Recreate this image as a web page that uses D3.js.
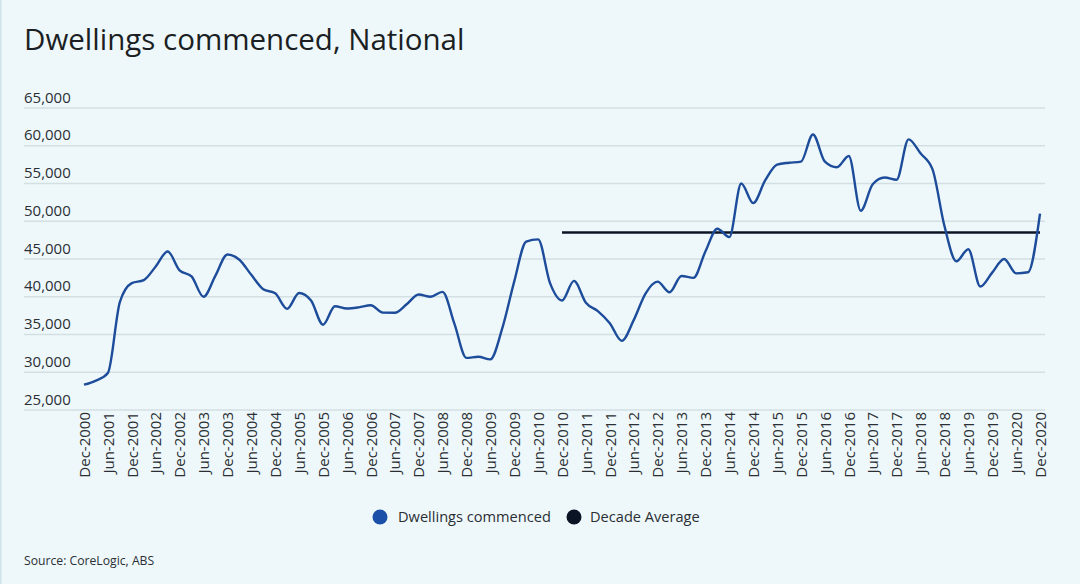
<!DOCTYPE html>
<html>
<head>
<meta charset="utf-8">
<script src="https://cdn.jsdelivr.net/npm/d3@7"></script>
<style>
  html, body { margin: 0; padding: 0; background: #eef8fb; }
  svg { display: block; }
  text { font-family: "Open Sans", "Noto Sans", sans-serif; }
</style>
</head>
<body>
<svg id="chart" width="1080" height="584"></svg>
<script>
// ---- Data ----
const months = ["Dec", "Mar", "Jun", "Sep"];
const startYear = 2000;
// Quarterly categories Dec-2000 ... Dec-2020
const categories = [];
for (let i = 0; i <= 80; i++) {
  const m = months[i % 4];
  const y = startYear + Math.ceil(i / 4);
  categories.push(m + "-" + y);
}
// Dwellings commenced (quarterly)
const dwellings = [
  28350, 28900, 29900, 39300, 41800, 42200, 44000, 46000, 43500, 42700,
  40000, 42800, 45600, 44900, 42900, 41000, 40450, 38400, 40500, 39500,
  36300, 38750, 38450, 38600, 38870, 37900, 37880, 39000, 40300, 40000,
  40650, 36400, 31900, 32050, 31700, 35800, 42000, 47300, 47600, 41800,
  39500, 42100, 39200, 38100, 36500, 34150, 36900, 40450, 42000, 40600,
  42750, 42500, 46000, 49000, 47900, 55000, 52400, 55400, 57500, 57750,
  57900, 61500, 57900, 57150, 58650, 51400, 54900, 55800, 55500, 60850,
  59000, 56900, 49400, 44700, 46300, 41350, 43200, 45000, 43100, 43250,
  51000
];
// Decade average (Dec-2010 to Dec-2020)
const decadeAverage = 48500;
const decadeStart = "Dec-2010";
const decadeEnd = "Dec-2020";
const yTicks = [25000, 30000, 35000, 40000, 45000, 50000, 55000, 60000, 65000];
const xTickLabels = categories.filter((d, i) => i % 2 === 0);
const seriesNames = ["Dwellings commenced", "Decade Average"];

// ---- Chart ----
const svg = d3.select("#chart");
const lineColor = "#1d4c9a";
const avgColor = "#0b1424";

svg.append("rect").attr("x", 0).attr("y", 0).attr("width", 1.5).attr("height", 584).attr("fill", "#cfe2ea");

svg.append("text")
  .attr("x", 24).attr("y", 50)
  .attr("font-size", 29.5).attr("fill", "#1b1f23")
  .text("Dwellings commenced, National");

const x = d3.scalePoint().domain(categories).range([84, 1040]);
const y = d3.scaleLinear().domain([25000, 65000]).range([410, 108]);

// gridlines
const grid = svg.append("g");
grid.selectAll("line").data(yTicks).join("line")
  .attr("x1", 24).attr("x2", 1045)
  .attr("y1", d => y(d)).attr("y2", d => y(d))
  .attr("stroke", "#d3dfe3").attr("stroke-width", 1.5);

// y labels
const yAxis = d3.axisLeft(y).tickValues(yTicks).tickFormat(d3.format(",")).tickSize(0);
const yg = svg.append("g").attr("transform", "translate(24,0)").call(yAxis);
yg.select(".domain").remove();
yg.selectAll("text")
  .attr("x", 0).attr("dy", 0).attr("y", -6)
  .attr("text-anchor", "start")
  .attr("font-size", 15).attr("fill", "#2b2f33")
  .style("font-family", "'Open Sans', sans-serif");

// x labels
const xAxis = d3.axisBottom(x).tickValues(xTickLabels).tickSize(0);
const xg = svg.append("g").attr("transform", "translate(0,410)").call(xAxis);
xg.select(".domain").remove();
xg.selectAll("text")
  .attr("transform", "rotate(-90)")
  .attr("x", -2).attr("y", 0).attr("dy", "0.35em")
  .attr("text-anchor", "end")
  .attr("font-size", 15).attr("fill", "#2b2f33")
  .style("font-family", "'Open Sans', sans-serif");

// decade average
svg.append("line")
  .attr("x1", x(decadeStart)).attr("x2", x(decadeEnd))
  .attr("y1", y(decadeAverage)).attr("y2", y(decadeAverage))
  .attr("stroke", avgColor).attr("stroke-width", 2.5);

// main line
const line = d3.line()
  .x((d, i) => x(categories[i]))
  .y(d => y(d))
  .curve(d3.curveMonotoneX);
svg.append("path")
  .datum(dwellings)
  .attr("d", line)
  .attr("fill", "none")
  .attr("stroke", lineColor)
  .attr("stroke-width", 2.4)
  .attr("stroke-linejoin", "round");

// legend
const legend = svg.append("g");
const legItems = [
  { name: seriesNames[0], color: "#1b4fa8", cx: 380, tx: 398 },
  { name: seriesNames[1], color: avgColor, cx: 574, tx: 590 }
];
legItems.forEach(it => {
  legend.append("circle").attr("cx", it.cx).attr("cy", 517).attr("r", 7.5).attr("fill", it.color);
  legend.append("text").attr("x", it.tx).attr("y", 522)
    .attr("font-size", 14.6).attr("fill", "#2b2f33").text(it.name);
});

// source
svg.append("text").attr("x", 24).attr("y", 565)
  .attr("font-size", 12.2).attr("fill", "#2b2f33")
  .text("Source: CoreLogic, ABS");
</script>
</body>
</html>
